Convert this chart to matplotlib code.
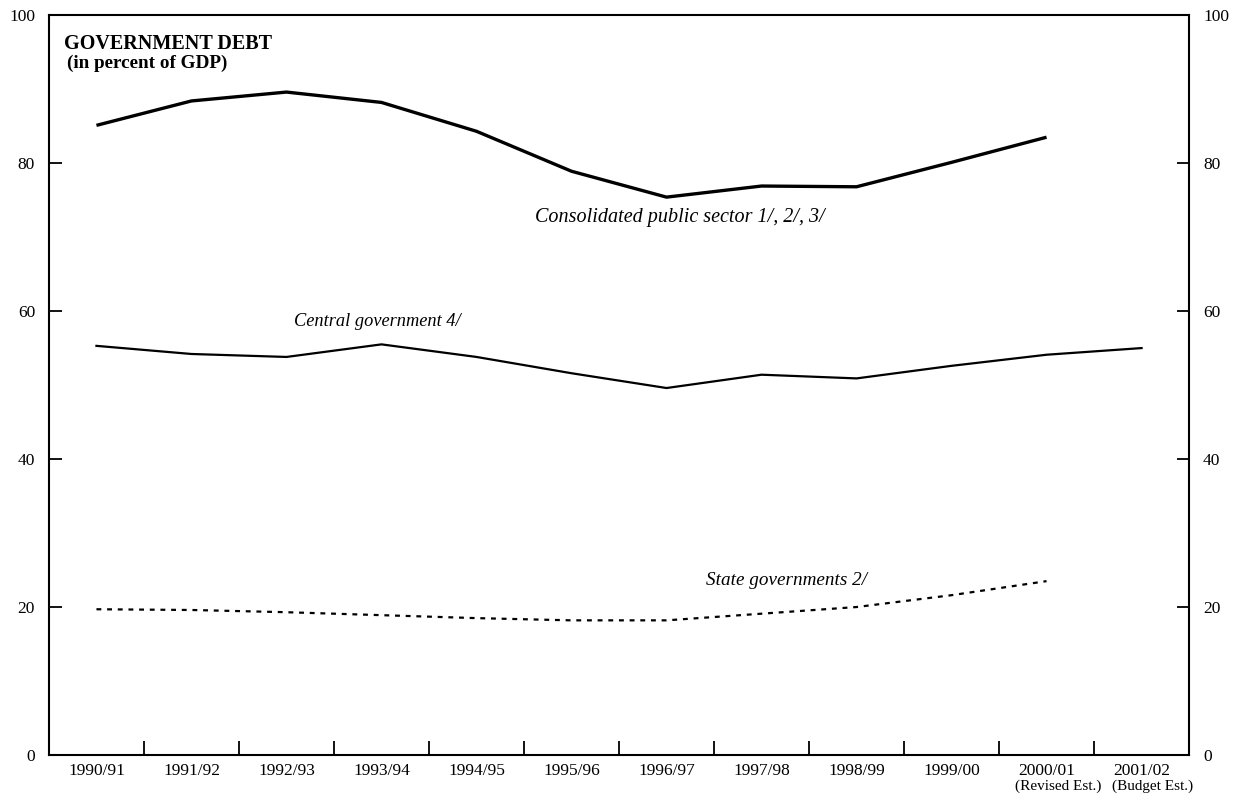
import matplotlib
matplotlib.use("Agg")
import matplotlib.pyplot as plt
import numpy as np

years = ["1990/91", "1991/92", "1992/93", "1993/94", "1994/95", "1995/96",
         "1996/97", "1997/98", "1998/99", "1999/00", "2000/01", "2001/02"]
estimate_notes = {"2000/01": "(Revised Est.)", "2001/02": "(Budget Est.)"}

consolidated = [85.1, 88.4, 89.6, 88.2, 84.3, 78.9, 75.4, 76.9, 76.8, 80.1, 83.5]
central = [55.3, 54.2, 53.8, 55.5, 53.8, 51.6, 49.6, 51.4, 50.9, 52.6, 54.1, 55.0]
state = [19.7, 19.6, 19.3, 18.9, 18.5, 18.2, 18.2, 19.1, 20.0, 21.6, 23.5]

y_ticks = [0, 20, 40, 60, 80, 100]

plt.rcParams["font.family"] = ["Liberation Serif", "DejaVu Serif"]

fig = plt.figure(figsize=(12.39, 7.96), dpi=100)
ax = fig.add_axes([0.0395, 0.0515, 0.9202, 0.9295])

x = np.arange(len(years))
ax.plot(x[:len(consolidated)], consolidated, color="black", lw=2.4,
        solid_joinstyle="round", solid_capstyle="butt")
ax.plot(x[:len(central)], central, color="black", lw=1.6)
ax.plot(x[:len(state)], state, color="black", lw=1.6, dashes=(2.2, 2.6))

ax.set_xlim(-0.5, len(years) - 0.5)
ax.set_ylim(0, 100)

# Category labels centred under each period, ticks on the period boundaries
ax.set_xticks(np.arange(len(years) + 1) - 0.5)
ax.set_xticklabels([])
ax.tick_params(axis="x", which="major", direction="in", length=10, width=1.3)
ax.set_xticks(x, minor=True)
ax.set_xticklabels(years, minor=True, fontsize=12.5, va="top")
ax.tick_params(axis="x", which="minor", length=0, pad=6)

# Estimate notes on a second line under the last two periods
for i, yr in enumerate(years):
    if yr in estimate_notes:
        ax.text(i + 0.12, -0.042, estimate_notes[yr],
                transform=ax.get_xaxis_transform(), fontsize=11,
                ha="center", va="center")

ax.set_yticks(y_ticks)
ax.tick_params(axis="y", direction="in", length=9, width=1.3,
               left=True, right=True, labelleft=True, labelright=True,
               labelsize=12.5, pad=10)

for s in ax.spines.values():
    s.set_linewidth(1.5)

ax.text(0.013, 0.975, "GOVERNMENT DEBT", transform=ax.transAxes,
        fontsize=14.5, fontweight="bold", va="top", ha="left")
ax.text(0.016, 0.947, "(in percent of GDP)", transform=ax.transAxes,
        fontsize=13.8, fontweight="bold", va="top", ha="left")

ax.text(4.62, 72.7, "Consolidated public sector 1/, 2/, 3/", fontsize=14.5,
        style="italic", ha="left", va="center")
ax.text(2.08, 58.6, "Central government 4/", fontsize=13.2,
        style="italic", ha="left", va="center")
ax.text(6.42, 23.6, "State governments 2/", fontsize=13.8,
        style="italic", ha="left", va="center")

fig.savefig("out.png", dpi=100)
